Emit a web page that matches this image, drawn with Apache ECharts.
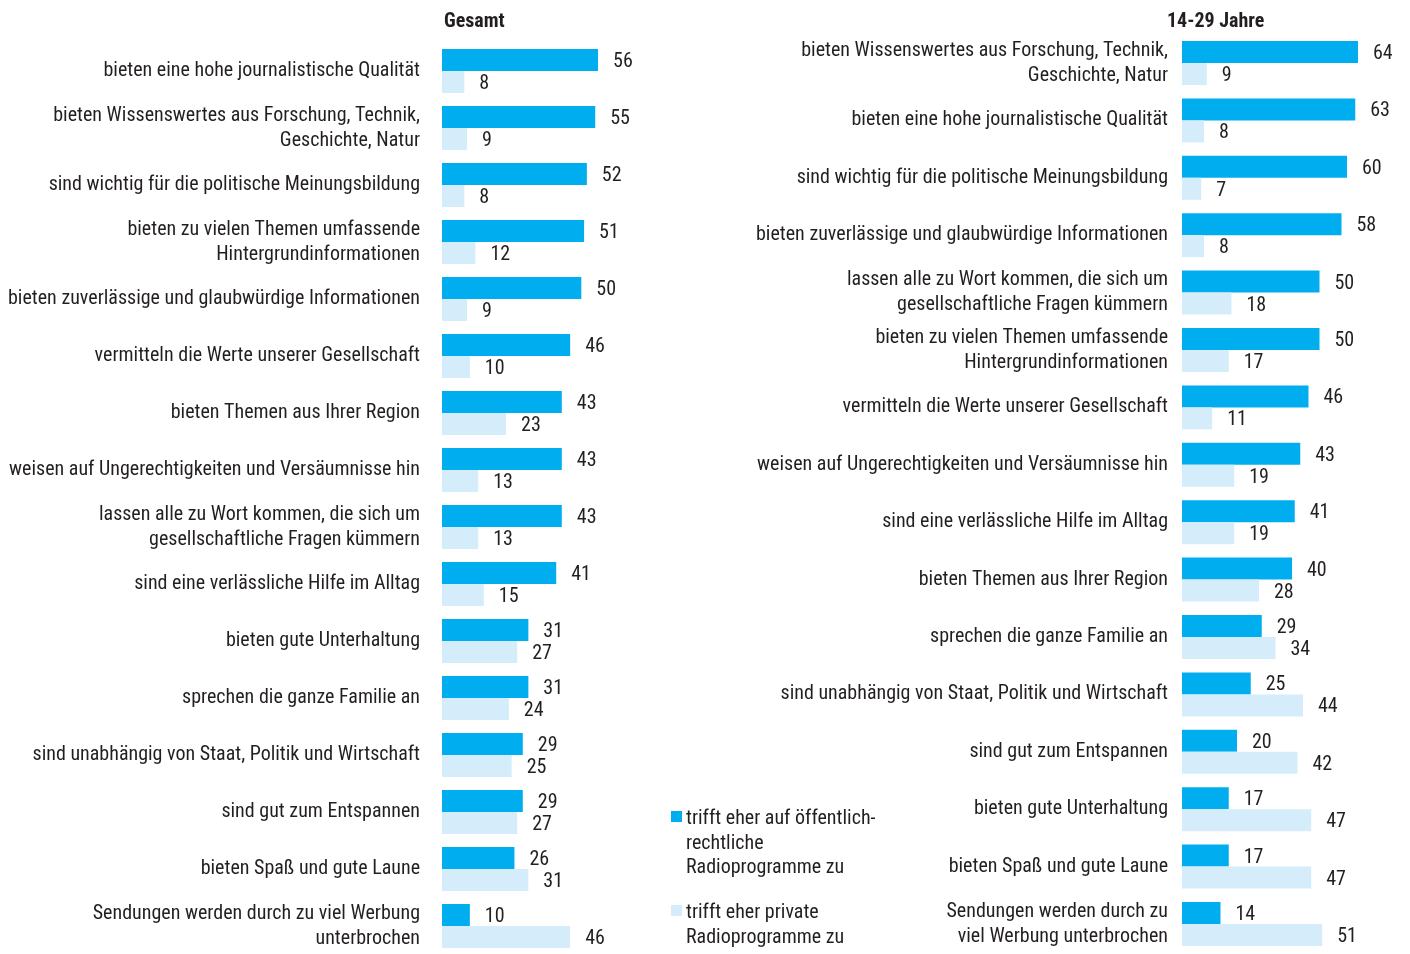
<!DOCTYPE html>
<html>
<head>
<meta charset="utf-8">
<script src="https://cdn.jsdelivr.net/npm/echarts@6/dist/echarts.min.js"></script>
<style>
  html, body { margin: 0; padding: 0; background: #fff; }
  #chart { width: 1410px; height: 954px; }
</style>
</head>
<body>
<div id="chart"></div>
<script>
// Gesamt
var catsAll = [
    'bieten eine hohe journalistische Qualität',
    'bieten Wissenswertes aus Forschung, Technik,\nGeschichte, Natur',
    'sind wichtig für die politische Meinungsbildung',
    'bieten zu vielen Themen umfassende\nHintergrundinformationen',
    'bieten zuverlässige und glaubwürdige Informationen',
    'vermitteln die Werte unserer Gesellschaft',
    'bieten Themen aus Ihrer Region',
    'weisen auf Ungerechtigkeiten und Versäumnisse hin',
    'lassen alle zu Wort kommen, die sich um\ngesellschaftliche Fragen kümmern',
    'sind eine verlässliche Hilfe im Alltag',
    'bieten gute Unterhaltung',
    'sprechen die ganze Familie an',
    'sind unabhängig von Staat, Politik und Wirtschaft',
    'sind gut zum Entspannen',
    'bieten Spaß und gute Laune',
    'Sendungen werden durch zu viel Werbung\nunterbrochen'
];
var oerAll = [56, 55, 52, 51, 50, 46, 43, 43, 43, 41, 31, 31, 29, 29, 26, 10];
var privAll = [8, 9, 8, 12, 9, 10, 23, 13, 13, 15, 27, 24, 25, 27, 31, 46];

// 14-29 Jahre
var catsYoung = [
    'bieten Wissenswertes aus Forschung, Technik,\nGeschichte, Natur',
    'bieten eine hohe journalistische Qualität',
    'sind wichtig für die politische Meinungsbildung',
    'bieten zuverlässige und glaubwürdige Informationen',
    'lassen alle zu Wort kommen, die sich um\ngesellschaftliche Fragen kümmern',
    'bieten zu vielen Themen umfassende\nHintergrundinformationen',
    'vermitteln die Werte unserer Gesellschaft',
    'weisen auf Ungerechtigkeiten und Versäumnisse hin',
    'sind eine verlässliche Hilfe im Alltag',
    'bieten Themen aus Ihrer Region',
    'sprechen die ganze Familie an',
    'sind unabhängig von Staat, Politik und Wirtschaft',
    'sind gut zum Entspannen',
    'bieten gute Unterhaltung',
    'bieten Spaß und gute Laune',
    'Sendungen werden durch zu\nviel Werbung unterbrochen'
];
var oerYoung = [64, 63, 60, 58, 50, 50, 46, 43, 41, 40, 29, 25, 20, 17, 17, 14];
var privYoung = [9, 8, 7, 8, 18, 17, 11, 19, 19, 28, 34, 44, 42, 47, 47, 51];

var seriesNames = ['trifft eher auf öffentlich-\nrechtliche\nRadioprogramme zu', 'trifft eher private\nRadioprogramme zu'];
var colDark = '#00aeef';
var colLight = '#d5edfa';
var textCol = '#231f20';
var fontFam = '"Roboto Condensed", "Liberation Sans Narrow", sans-serif';

var myChart = echarts.init(document.getElementById('chart'));

function barSeries(idx, name, data, color) {
    return {
        name: name,
        type: 'bar',
        xAxisIndex: idx,
        yAxisIndex: idx,
        barWidth: 22,
        barGap: '0%',
        itemStyle: { color: color },
        label: {
            show: true,
            position: 'right',
            distance: 15,
            offset: [0, 2],
            color: textCol,
            fontFamily: fontFam,
            fontSize: 20
        },
        silent: true,
        data: data
    };
}

function catAxis(idx, cats, margin) {
    return {
        type: 'category',
        gridIndex: idx,
        inverse: true,
        data: cats,
        axisLine: { show: false },
        axisTick: { show: false },
        axisLabel: {
            margin: margin,
            color: textCol,
            fontFamily: fontFam,
            fontSize: 20,
            lineHeight: 25,
            align: 'right'
        }
    };
}

function valAxis(idx) {
    return {
        type: 'value',
        gridIndex: idx,
        min: 0,
        max: 100,
        show: false
    };
}

var option = {
    animation: false,
    title: [
        { text: 'Gesamt', left: 439, top: 7,
          textStyle: { color: textCol, fontFamily: fontFam, fontSize: 20, fontWeight: 'bold' } },
        { text: '14-29 Jahre', left: 1162, top: 7,
          textStyle: { color: textCol, fontFamily: fontFam, fontSize: 20, fontWeight: 'bold' } }
    ],
    grid: [
        { left: 442, top: 42.5, width: 278.6, height: 912, outerBoundsMode: 'none', containLabel: false },
        { left: 1182, top: 34.3, width: 275, height: 918.4, outerBoundsMode: 'none', containLabel: false }
    ],
    xAxis: [valAxis(0), valAxis(1)],
    yAxis: [catAxis(0, catsAll, 22), catAxis(1, catsYoung, 14)],
    series: [
        barSeries(0, seriesNames[0], oerAll, colDark),
        barSeries(0, seriesNames[1], privAll, colLight),
        barSeries(1, seriesNames[0], oerYoung, colDark),
        barSeries(1, seriesNames[1], privYoung, colLight)
    ],
    graphic: [
        { type: 'rect', left: 671, top: 811, shape: { width: 11, height: 11 }, style: { fill: colDark } },
        { type: 'text', left: 686, top: 807,
          style: { text: seriesNames[0], fill: textCol, font: '20px ' + fontFam, lineHeight: 24.5 } },
        { type: 'rect', left: 671, top: 905, shape: { width: 11, height: 11 }, style: { fill: colLight } },
        { type: 'text', left: 686, top: 901,
          style: { text: seriesNames[1], fill: textCol, font: '20px ' + fontFam, lineHeight: 24.5 } }
    ]
};

myChart.setOption(option);
</script>
</body>
</html>
